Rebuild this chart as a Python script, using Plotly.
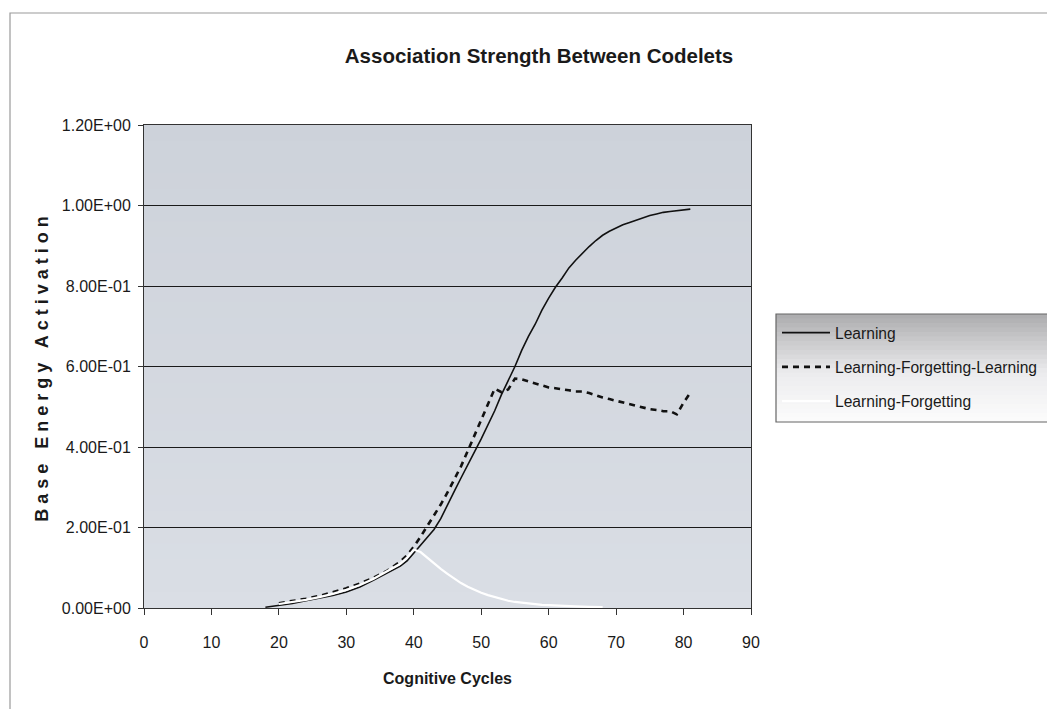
import plotly.graph_objects as go

# ---------------- data ----------------
title_text = "Association Strength Between Codelets"
x_title_text = "Cognitive Cycles"
y_title_text = "Base Energy Activation"

series_names = ["Learning", "Learning-Forgetting-Learning", "Learning-Forgetting"]

learning_x = [18, 20, 22, 24, 26, 28, 30, 32, 34, 36, 38, 39, 40, 41, 42, 43, 44, 45,
              46, 47, 48, 49, 50, 51, 52, 53, 54, 55, 56, 57, 58, 59, 60, 61, 62, 63,
              64, 65, 66, 67, 68, 69, 70, 71, 72, 73, 74, 75, 76, 77, 78, 79, 80, 81]
learning_y = [0.002, 0.006, 0.011, 0.018, 0.024, 0.031, 0.040, 0.052, 0.069, 0.087,
              0.104, 0.117, 0.136, 0.156, 0.176, 0.195, 0.222, 0.258, 0.290, 0.323,
              0.357, 0.388, 0.420, 0.455, 0.490, 0.530, 0.565, 0.600, 0.640, 0.675,
              0.705, 0.740, 0.770, 0.797, 0.820, 0.845, 0.864, 0.882, 0.898, 0.913,
              0.926, 0.936, 0.945, 0.952, 0.958, 0.964, 0.970, 0.975, 0.979, 0.983,
              0.985, 0.987, 0.989, 0.991]

lfl_x = [20, 22, 24, 26, 28, 30, 32, 34, 36, 38, 39, 40, 41, 42, 43, 44, 45, 46, 47,
         48, 49, 50, 51, 52, 53, 54, 55, 56, 57, 58, 59, 60, 61, 62, 63, 64, 65, 66,
         67, 68, 69, 70, 71, 72, 73, 74, 75, 76, 77, 78, 79, 80, 81]
lfl_y = [0.012, 0.017, 0.023, 0.030, 0.039, 0.049, 0.061, 0.075, 0.092, 0.115, 0.131,
         0.152, 0.177, 0.203, 0.230, 0.257, 0.287, 0.318, 0.352, 0.390, 0.428, 0.466,
         0.505, 0.545, 0.536, 0.543, 0.570, 0.568, 0.563, 0.558, 0.553, 0.548, 0.546,
         0.544, 0.541, 0.538, 0.538, 0.534, 0.528, 0.523, 0.519, 0.515, 0.511, 0.507,
         0.503, 0.498, 0.494, 0.492, 0.489, 0.489, 0.481, 0.510, 0.535]

lf_x = [20, 22, 24, 26, 28, 30, 32, 34, 36, 38, 39, 40, 41, 42, 43, 44, 45, 46, 47,
        48, 49, 50, 51, 52, 53, 54, 55, 56, 57, 58, 59, 60, 62, 64, 66, 68]
lf_y = [0.010, 0.015, 0.020, 0.027, 0.035, 0.045, 0.057, 0.072, 0.090, 0.110, 0.125,
        0.145, 0.139, 0.125, 0.110, 0.097, 0.085, 0.073, 0.062, 0.053, 0.045, 0.038,
        0.032, 0.027, 0.022, 0.018, 0.015, 0.013, 0.011, 0.009, 0.008, 0.007, 0.005,
        0.004, 0.003, 0.002]

x_tick_vals = [0, 10, 20, 30, 40, 50, 60, 70, 80, 90]
y_tick_vals = [0.0, 0.2, 0.4, 0.6, 0.8, 1.0, 1.2]
y_tick_text = ["0.00E+00", "2.00E-01", "4.00E-01", "6.00E-01",
               "8.00E-01", "1.00E+00", "1.20E+00"]

# ---------------- layout geometry ----------------
W, H = 1047, 709
L, R, T, B = 144, 296, 125, 101
PW, PH = W - L - R, H - T - B
FONT = "Liberation Sans, Arial, sans-serif"


def px2paper(px):
    return (px - L) / PW


def py2paper(py):
    return (H - B - py) / PH


def lerp(c1, c2, t):
    return "rgb(%d,%d,%d)" % tuple(round(a + (b - a) * t) for a, b in zip(c1, c2))


shapes = []
# plot area vertical gradient (slightly darker top, lighter bottom)
N = 30
top_c, bot_c = (205, 210, 218), (218, 222, 229)
for i in range(N):
    y0, y1 = i / N, (i + 1) / N
    shapes.append(dict(type="rect", xref="x domain", yref="y domain", x0=0, x1=1,
                       y0=y0, y1=y1 + 0.002, line=dict(width=0),
                       fillcolor=lerp(bot_c, top_c, (i + 0.5) / N), layer="below"))

# legend box gradient
lx0, lx1, ly_top, ly_bot = 776, 1060, 314, 422
M = 24
for i in range(M):
    t = (i + 0.5) / M  # 0 at top
    if t < 0.55:
        col = lerp((172, 172, 174), (236, 236, 238), t / 0.55)
    else:
        col = lerp((236, 236, 238), (252, 252, 252), (t - 0.55) / 0.45)
    pa = ly_top + (ly_bot - ly_top) * i / M
    pb = ly_top + (ly_bot - ly_top) * (i + 1) / M
    shapes.append(dict(type="rect", xref="paper", yref="paper",
                       x0=px2paper(lx0), x1=px2paper(lx1),
                       y0=py2paper(pb + 0.5), y1=py2paper(pa), line=dict(width=0),
                       fillcolor=col, layer="below"))
shapes.append(dict(type="rect", xref="paper", yref="paper",
                   x0=px2paper(lx0), x1=px2paper(lx1),
                   y0=py2paper(ly_bot), y1=py2paper(ly_top),
                   line=dict(color="#666666", width=1.2), fillcolor="rgba(0,0,0,0)",
                   layer="below"))
# outer chart frame
shapes.append(dict(type="rect", xref="paper", yref="paper",
                   x0=px2paper(10), x1=px2paper(1070),
                   y0=py2paper(730), y1=py2paper(13),
                   line=dict(color="#9a9a9a", width=1.2), fillcolor="rgba(0,0,0,0)",
                   layer="below"))

fig = go.Figure()
fig.add_trace(go.Scatter(x=learning_x, y=learning_y, mode="lines", name=series_names[0],
                         legendgroup="a", line=dict(color="#111111", width=1.6)))
fig.add_trace(go.Scatter(x=lfl_x, y=lfl_y, mode="lines", name=series_names[1],
                         legendgroup="b",
                         line=dict(color="#111111", width=2.6, dash="6px,5px")))
fig.add_trace(go.Scatter(x=lf_x, y=lf_y, mode="lines", name=series_names[2],
                         legendgroup="c", line=dict(color="#ffffff", width=2.2)))

fig.update_layout(
    width=W, height=H,
    margin=dict(l=L, r=R, t=T, b=B, autoexpand=False),
    paper_bgcolor="white",
    plot_bgcolor=lerp(bot_c, top_c, 0.5),
    font=dict(family=FONT, color="#1a1a1a", size=16),
    title=dict(text=title_text, x=px2paper(539), xanchor="center",
               y=1 - 56 / H, yanchor="middle", xref="paper", yref="container",
               font=dict(size=20.5, family=FONT, weight="bold", color="#1a1a1a")),
    shapes=shapes,
    showlegend=True,
    legend=dict(x=px2paper(777), y=py2paper(316), xanchor="left", yanchor="top",
                bgcolor="rgba(0,0,0,0)", borderwidth=0, itemwidth=48,
                traceorder="grouped", tracegroupgap=11,
                font=dict(size=15.6, family=FONT, color="#1a1a1a")),
    xaxis=dict(range=[0, 90], tickvals=x_tick_vals, showgrid=False, zeroline=False,
               showline=True, linecolor="#333333", linewidth=1, mirror=True,
               ticks="outside", ticklen=6, tickcolor="#333333",
               ticklabelstandoff=14,
               tickfont=dict(size=16, family=FONT, color="#1a1a1a"),
               title=dict(text=x_title_text, standoff=22,
                          font=dict(size=16, family=FONT, weight="bold",
                                    color="#1a1a1a")),
               fixedrange=True),
    yaxis=dict(range=[0, 1.2], tickvals=y_tick_vals, ticktext=y_tick_text,
               showgrid=True, gridcolor="#1a1a1a", gridwidth=1, zeroline=False,
               showline=True, linecolor="#333333", linewidth=1, mirror=True,
               ticks="outside", ticklen=5, tickcolor="#333333",
               ticklabelstandoff=4,
               tickfont=dict(size=16, family=FONT, color="#1a1a1a"),
               title=dict(text=y_title_text, standoff=8,
                          font=dict(size=18, family=FONT, weight="bold",
                                    color="#1a1a1a")),
               fixedrange=True),
)

post = """
document.body.style.margin='0';
document.body.style.overflow='hidden';
var yt = document.querySelector('.ytitle');
if (yt) { yt.style.letterSpacing = '5px'; }
"""
fig.write_html("out.html", post_script=post, config={"displayModeBar": False})
